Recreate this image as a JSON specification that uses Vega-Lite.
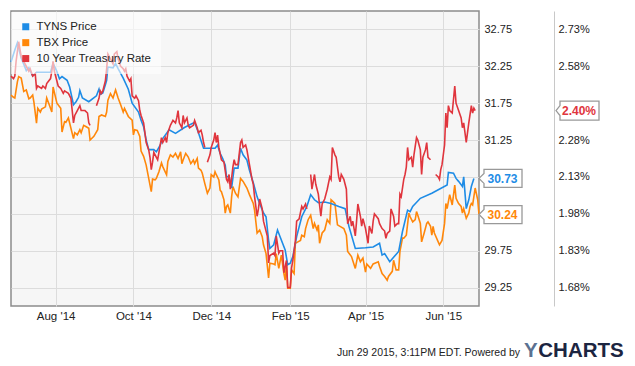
{
  "$schema": "https://vega.github.io/schema/vega-lite/v6.json",
  "width": 468,
  "height": 295,
  "autosize": {"type": "none"},
  "padding": {"left": 11, "top": 11, "right": 156, "bottom": 60},
  "background": "#ffffff",
  "config": {
    "font": "Liberation Sans",
    "view": {"fill": "#f6f6f6", "stroke": "#8c8c8c", "strokeWidth": 1.5},
    "axis": {"labelFont": "Liberation Sans", "labelColor": "#222222", "ticks": false, "domain": false, "gridColor": "#dcdcdc", "gridWidth": 1, "titleFont": "Liberation Sans"}
  },
  "datasets": {
    "tbx": [
      {"date":"2014-06-27","value":31.86},{"date":"2014-06-29","value":31.83},{"date":"2014-06-30","value":31.82},{"date":"2014-07-02","value":32.04},{"date":"2014-07-03","value":32.11},{"date":"2014-07-05","value":32.09},{"date":"2014-07-07","value":31.91},{"date":"2014-07-09","value":31.93},{"date":"2014-07-11","value":31.81},{"date":"2014-07-12","value":31.82},{"date":"2014-07-14","value":31.86},{"date":"2014-07-15","value":31.76},{"date":"2014-07-17","value":31.48},{"date":"2014-07-18","value":31.68},{"date":"2014-07-20","value":31.63},{"date":"2014-07-21","value":31.67},{"date":"2014-07-24","value":31.70},{"date":"2014-07-25","value":31.82},{"date":"2014-07-27","value":31.73},{"date":"2014-07-29","value":31.63},{"date":"2014-07-30","value":31.97},
      {"date":"2014-08-02","value":31.75},{"date":"2014-08-05","value":31.68},{"date":"2014-08-06","value":31.36},{"date":"2014-08-08","value":31.50},{"date":"2014-08-09","value":31.49},{"date":"2014-08-11","value":31.55},{"date":"2014-08-13","value":31.41},{"date":"2014-08-15","value":31.27},{"date":"2014-08-16","value":31.35},{"date":"2014-08-18","value":31.32},{"date":"2014-08-20","value":31.39},{"date":"2014-08-21","value":31.35},{"date":"2014-08-23","value":31.45},{"date":"2014-08-25","value":31.43},{"date":"2014-08-27","value":31.41},{"date":"2014-08-28","value":31.25},{"date":"2014-08-31","value":31.30},
      {"date":"2014-09-03","value":31.39},{"date":"2014-09-04","value":31.57},{"date":"2014-09-06","value":31.59},{"date":"2014-09-09","value":31.57},{"date":"2014-09-10","value":31.63},{"date":"2014-09-11","value":31.79},{"date":"2014-09-13","value":31.88},{"date":"2014-09-15","value":31.82},{"date":"2014-09-17","value":31.93},{"date":"2014-09-19","value":31.82},{"date":"2014-09-21","value":31.73},{"date":"2014-09-23","value":31.63},{"date":"2014-09-24","value":31.68},{"date":"2014-09-27","value":31.57},{"date":"2014-09-30","value":31.52},
      {"date":"2014-10-01","value":31.32},{"date":"2014-10-02","value":31.39},{"date":"2014-10-04","value":31.38},{"date":"2014-10-06","value":31.30},{"date":"2014-10-07","value":31.10},{"date":"2014-10-09","value":31.03},{"date":"2014-10-11","value":30.91},{"date":"2014-10-13","value":30.73},{"date":"2014-10-15","value":30.55},{"date":"2014-10-16","value":30.72},{"date":"2014-10-18","value":30.71},{"date":"2014-10-19","value":30.73},{"date":"2014-10-21","value":30.82},{"date":"2014-10-23","value":30.94},{"date":"2014-10-24","value":30.89},{"date":"2014-10-27","value":30.78},{"date":"2014-10-28","value":30.96},{"date":"2014-10-30","value":31.05},
      {"date":"2014-11-01","value":31.02},{"date":"2014-11-03","value":31.07},{"date":"2014-11-05","value":31.00},{"date":"2014-11-07","value":31.09},{"date":"2014-11-08","value":30.93},{"date":"2014-11-09","value":30.98},{"date":"2014-11-11","value":31.07},{"date":"2014-11-13","value":31.02},{"date":"2014-11-15","value":30.93},{"date":"2014-11-17","value":30.98},{"date":"2014-11-18","value":30.93},{"date":"2014-11-20","value":31.00},{"date":"2014-11-21","value":30.87},{"date":"2014-11-23","value":30.84},{"date":"2014-11-24","value":30.80},{"date":"2014-11-26","value":30.66},{"date":"2014-11-28","value":30.53},{"date":"2014-11-30","value":30.60},
      {"date":"2014-12-01","value":30.78},{"date":"2014-12-03","value":30.75},{"date":"2014-12-04","value":30.82},{"date":"2014-12-05","value":30.78},{"date":"2014-12-07","value":30.71},{"date":"2014-12-08","value":30.57},{"date":"2014-12-09","value":30.55},{"date":"2014-12-11","value":30.44},{"date":"2014-12-12","value":30.26},{"date":"2014-12-13","value":30.35},{"date":"2014-12-14","value":30.37},{"date":"2014-12-16","value":30.26},{"date":"2014-12-17","value":30.48},{"date":"2014-12-18","value":30.62},{"date":"2014-12-20","value":30.53},{"date":"2014-12-22","value":30.48},{"date":"2014-12-24","value":30.73},{"date":"2014-12-26","value":30.69},{"date":"2014-12-29","value":30.60},{"date":"2014-12-31","value":30.51},
      {"date":"2015-01-03","value":30.39},{"date":"2015-01-04","value":30.30},{"date":"2015-01-06","value":29.99},{"date":"2015-01-08","value":30.03},{"date":"2015-01-10","value":29.94},{"date":"2015-01-11","value":29.83},{"date":"2015-01-13","value":29.71},{"date":"2015-01-15","value":29.38},{"date":"2015-01-16","value":29.58},{"date":"2015-01-19","value":29.57},{"date":"2015-01-20","value":29.56},{"date":"2015-01-21","value":29.71},{"date":"2015-01-23","value":29.51},{"date":"2015-01-24","value":29.60},{"date":"2015-01-25","value":29.69},{"date":"2015-01-27","value":29.44},{"date":"2015-01-28","value":29.35},{"date":"2015-01-29","value":29.58},{"date":"2015-01-30","value":29.24},
      {"date":"2015-02-01","value":29.24},{"date":"2015-02-02","value":29.49},{"date":"2015-02-04","value":29.44},{"date":"2015-02-05","value":29.85},{"date":"2015-02-07","value":29.87},{"date":"2015-02-09","value":29.89},{"date":"2015-02-10","value":29.96},{"date":"2015-02-12","value":29.94},{"date":"2015-02-13","value":30.05},{"date":"2015-02-15","value":30.17},{"date":"2015-02-17","value":30.23},{"date":"2015-02-19","value":30.05},{"date":"2015-02-20","value":30.12},{"date":"2015-02-22","value":30.03},{"date":"2015-02-23","value":30.10},{"date":"2015-02-24","value":29.85},{"date":"2015-02-26","value":29.99},{"date":"2015-02-28","value":30.03},
      {"date":"2015-03-02","value":30.17},{"date":"2015-03-04","value":30.12},{"date":"2015-03-05","value":30.44},{"date":"2015-03-08","value":30.39},{"date":"2015-03-10","value":30.10},{"date":"2015-03-12","value":30.08},{"date":"2015-03-15","value":30.05},{"date":"2015-03-17","value":29.96},{"date":"2015-03-18","value":29.74},{"date":"2015-03-21","value":29.67},{"date":"2015-03-24","value":29.51},{"date":"2015-03-26","value":29.69},{"date":"2015-03-28","value":29.60},{"date":"2015-03-30","value":29.65},
      {"date":"2015-04-01","value":29.46},{"date":"2015-04-02","value":29.57},{"date":"2015-04-05","value":29.51},{"date":"2015-04-07","value":29.57},{"date":"2015-04-11","value":29.60},{"date":"2015-04-12","value":29.54},{"date":"2015-04-14","value":29.44},{"date":"2015-04-16","value":29.40},{"date":"2015-04-18","value":29.35},{"date":"2015-04-19","value":29.40},{"date":"2015-04-22","value":29.47},{"date":"2015-04-23","value":29.62},{"date":"2015-04-25","value":29.49},{"date":"2015-04-27","value":29.49},{"date":"2015-04-28","value":29.74},{"date":"2015-04-30","value":29.92},
      {"date":"2015-05-01","value":29.92},{"date":"2015-05-03","value":29.96},{"date":"2015-05-05","value":30.26},{"date":"2015-05-06","value":30.21},{"date":"2015-05-08","value":30.14},{"date":"2015-05-10","value":30.17},{"date":"2015-05-11","value":30.28},{"date":"2015-05-12","value":30.23},{"date":"2015-05-14","value":30.12},{"date":"2015-05-15","value":29.87},{"date":"2015-05-17","value":29.99},{"date":"2015-05-19","value":30.12},{"date":"2015-05-20","value":30.14},{"date":"2015-05-22","value":30.08},{"date":"2015-05-23","value":29.96},{"date":"2015-05-24","value":30.08},{"date":"2015-05-25","value":29.99},{"date":"2015-05-28","value":29.87},{"date":"2015-05-29","value":29.83},{"date":"2015-05-31","value":29.89},
      {"date":"2015-06-02","value":30.12},{"date":"2015-06-03","value":30.39},{"date":"2015-06-04","value":30.32},{"date":"2015-06-06","value":30.51},{"date":"2015-06-07","value":30.44},{"date":"2015-06-08","value":30.37},{"date":"2015-06-10","value":30.64},{"date":"2015-06-11","value":30.46},{"date":"2015-06-13","value":30.39},{"date":"2015-06-15","value":30.35},{"date":"2015-06-16","value":30.26},{"date":"2015-06-17","value":30.32},{"date":"2015-06-19","value":30.19},{"date":"2015-06-21","value":30.26},{"date":"2015-06-22","value":30.35},{"date":"2015-06-23","value":30.39},{"date":"2015-06-24","value":30.37},{"date":"2015-06-26","value":30.60},{"date":"2015-06-28","value":30.44},{"date":"2015-06-29","value":30.24}
    ],
    "tyns": [
      {"date":"2014-06-27","value":32.31},{"date":"2014-06-30","value":32.47},{"date":"2014-07-02","value":32.57},{"date":"2014-07-05","value":32.36},{"date":"2014-07-07","value":32.28},{"date":"2014-07-09","value":32.19},{"date":"2014-07-11","value":32.23},{"date":"2014-07-14","value":32.12},{"date":"2014-07-17","value":32.17},{"date":"2014-07-28","value":32.17},{"date":"2014-07-30","value":32.29},
      {"date":"2014-08-02","value":32.18},{"date":"2014-08-04","value":32.08},{"date":"2014-08-06","value":32.11},{"date":"2014-08-10","value":32.06},{"date":"2014-08-12","value":31.97},{"date":"2014-08-15","value":31.73},{"date":"2014-08-17","value":31.77},{"date":"2014-08-19","value":31.83},{"date":"2014-08-20","value":31.92},{"date":"2014-08-22","value":31.82},{"date":"2014-08-27","value":31.77},
      {"date":"2014-09-02","value":31.85},{"date":"2014-09-04","value":31.94},{"date":"2014-09-05","value":31.87},{"date":"2014-09-07","value":31.89},{"date":"2014-09-09","value":32.00},{"date":"2014-09-10","value":32.06},{"date":"2014-09-11","value":32.24},{"date":"2014-09-15","value":32.23},{"date":"2014-09-17","value":32.29},{"date":"2014-09-19","value":32.22},{"date":"2014-09-23","value":32.09},{"date":"2014-09-27","value":31.94},{"date":"2014-09-30","value":31.75},
      {"date":"2014-10-05","value":31.63},{"date":"2014-10-07","value":31.52},{"date":"2014-10-09","value":31.43},{"date":"2014-10-11","value":31.25},{"date":"2014-10-13","value":31.12},{"date":"2014-10-17","value":31.12},{"date":"2014-10-19","value":31.09},{"date":"2014-10-22","value":31.18},{"date":"2014-10-24","value":31.27},{"date":"2014-10-29","value":31.39},
      {"date":"2014-11-03","value":31.34},{"date":"2014-11-10","value":31.42},{"date":"2014-11-18","value":31.49},{"date":"2014-11-21","value":31.35},{"date":"2014-11-25","value":31.14},
      {"date":"2014-12-04","value":31.14},{"date":"2014-12-06","value":31.18},{"date":"2014-12-08","value":31.07},{"date":"2014-12-10","value":31.00},{"date":"2014-12-12","value":30.91},{"date":"2014-12-13","value":30.75},{"date":"2014-12-15","value":30.76},{"date":"2014-12-17","value":30.60},{"date":"2014-12-19","value":30.87},{"date":"2014-12-22","value":30.87},{"date":"2014-12-24","value":31.14},{"date":"2014-12-26","value":31.05},{"date":"2014-12-29","value":30.98},{"date":"2014-12-31","value":30.84},
      {"date":"2015-01-03","value":30.67},{"date":"2015-01-06","value":30.48},{"date":"2015-01-08","value":30.39},{"date":"2015-01-11","value":30.26},{"date":"2015-01-13","value":30.21},{"date":"2015-01-15","value":29.89},{"date":"2015-01-16","value":29.78},{"date":"2015-01-19","value":29.83},{"date":"2015-01-22","value":30.03},{"date":"2015-01-24","value":29.94},{"date":"2015-01-28","value":29.76},{"date":"2015-01-30","value":29.56},
      {"date":"2015-02-01","value":29.58},{"date":"2015-02-03","value":29.67},{"date":"2015-02-06","value":29.94},{"date":"2015-02-10","value":30.21},{"date":"2015-02-14","value":30.35},{"date":"2015-02-17","value":30.51},{"date":"2015-02-20","value":30.44},{"date":"2015-02-23","value":30.40},{"date":"2015-02-28","value":30.41},
      {"date":"2015-03-05","value":30.39},{"date":"2015-03-11","value":30.35},{"date":"2015-03-16","value":30.32},{"date":"2015-03-19","value":30.08},{"date":"2015-03-24","value":29.78},
      {"date":"2015-04-01","value":29.79},{"date":"2015-04-07","value":29.80},{"date":"2015-04-12","value":29.85},{"date":"2015-04-14","value":29.69},{"date":"2015-04-16","value":29.71},{"date":"2015-04-20","value":29.60},{"date":"2015-04-27","value":29.74},{"date":"2015-04-30","value":30.01},
      {"date":"2015-05-04","value":30.30},{"date":"2015-05-06","value":30.28},{"date":"2015-05-08","value":30.35},{"date":"2015-05-14","value":30.46},{"date":"2015-05-23","value":30.53},
      {"date":"2015-06-04","value":30.64},{"date":"2015-06-05","value":30.81},{"date":"2015-06-09","value":30.80},{"date":"2015-06-11","value":30.73},{"date":"2015-06-13","value":30.69},{"date":"2015-06-16","value":30.62},{"date":"2015-06-17","value":30.75},{"date":"2015-06-19","value":30.32},{"date":"2015-06-21","value":30.44},{"date":"2015-06-23","value":30.62},{"date":"2015-06-25","value":30.73}
    ],
    "rate": [
      {"date":"2014-06-27","value":2.54},{"date":"2014-06-29","value":2.53},{"date":"2014-06-30","value":2.54},{"date":"2014-07-01","value":2.60},{"date":"2014-07-03","value":2.68},{"date":"2014-07-05","value":2.62},{"date":"2014-07-08","value":2.59},{"date":"2014-07-11","value":2.56},{"date":"2014-07-12","value":2.57},{"date":"2014-07-14","value":2.54},{"date":"2014-07-16","value":2.55},{"date":"2014-07-17","value":2.49},{"date":"2014-07-18","value":2.50},{"date":"2014-07-21","value":2.49},{"date":"2014-07-22","value":2.50},{"date":"2014-07-24","value":2.49},{"date":"2014-07-25","value":2.51},{"date":"2014-07-28","value":2.53},{"date":"2014-07-29","value":2.56},{"date":"2014-07-30","value":2.60},{"date":"2014-07-31","value":2.56},
      {"date":"2014-08-02","value":2.52},{"date":"2014-08-03","value":2.50},{"date":"2014-08-05","value":2.49},{"date":"2014-08-07","value":2.47},{"date":"2014-08-08","value":2.48},{"date":"2014-08-11","value":2.47},{"date":"2014-08-13","value":2.45},{"date":"2014-08-14","value":2.40},{"date":"2014-08-15","value":2.35},{"date":"2014-08-16","value":2.38},{"date":"2014-08-18","value":2.40},{"date":"2014-08-20","value":2.42},{"date":"2014-08-21","value":2.40},{"date":"2014-08-24","value":2.40},{"date":"2014-08-26","value":2.39},{"date":"2014-08-27","value":2.35},{"date":"2014-08-28","value":2.34},{"date":"2014-08-31","value":null},
      {"date":"2014-09-02","value":2.42},{"date":"2014-09-04","value":2.45},{"date":"2014-09-05","value":2.48},{"date":"2014-09-06","value":2.47},{"date":"2014-09-07","value":2.48},{"date":"2014-09-09","value":2.52},{"date":"2014-09-10","value":2.57},{"date":"2014-09-11","value":2.63},{"date":"2014-09-13","value":2.61},{"date":"2014-09-15","value":2.59},{"date":"2014-09-16","value":2.63},{"date":"2014-09-18","value":2.64},{"date":"2014-09-19","value":2.61},{"date":"2014-09-21","value":2.58},{"date":"2014-09-23","value":2.57},{"date":"2014-09-24","value":2.56},{"date":"2014-09-25","value":2.57},{"date":"2014-09-26","value":2.54},{"date":"2014-09-28","value":2.52},{"date":"2014-09-29","value":2.53},{"date":"2014-09-30","value":2.46},
      {"date":"2014-10-02","value":2.45},{"date":"2014-10-03","value":2.46},{"date":"2014-10-05","value":2.44},{"date":"2014-10-06","value":2.40},{"date":"2014-10-07","value":2.38},{"date":"2014-10-09","value":2.35},{"date":"2014-10-10","value":2.31},{"date":"2014-10-11","value":2.27},{"date":"2014-10-13","value":2.24},{"date":"2014-10-14","value":2.21},{"date":"2014-10-15","value":2.16},{"date":"2014-10-16","value":2.19},{"date":"2014-10-17","value":2.23},{"date":"2014-10-19","value":2.21},{"date":"2014-10-20","value":2.20},{"date":"2014-10-21","value":2.23},{"date":"2014-10-23","value":2.29},{"date":"2014-10-24","value":2.27},{"date":"2014-10-26","value":2.29},{"date":"2014-10-27","value":2.27},{"date":"2014-10-28","value":2.31},{"date":"2014-10-30","value":2.34},{"date":"2014-10-31","value":2.35},
      {"date":"2014-11-01","value":2.36},{"date":"2014-11-03","value":2.35},{"date":"2014-11-04","value":2.37},{"date":"2014-11-05","value":2.40},{"date":"2014-11-06","value":2.35},{"date":"2014-11-08","value":2.33},{"date":"2014-11-09","value":2.38},{"date":"2014-11-10","value":2.35},{"date":"2014-11-12","value":2.37},{"date":"2014-11-13","value":2.34},{"date":"2014-11-14","value":2.33},{"date":"2014-11-17","value":2.34},{"date":"2014-11-18","value":2.36},{"date":"2014-11-20","value":2.33},{"date":"2014-11-21","value":2.31},{"date":"2014-11-23","value":2.32},{"date":"2014-11-24","value":2.30},{"date":"2014-11-25","value":2.27},{"date":"2014-11-26","value":2.25},{"date":"2014-11-27","value":null},{"date":"2014-11-28","value":2.19},{"date":"2014-11-30","value":2.22},
      {"date":"2014-12-01","value":2.25},{"date":"2014-12-03","value":2.28},{"date":"2014-12-04","value":2.31},{"date":"2014-12-05","value":2.27},{"date":"2014-12-06","value":2.30},{"date":"2014-12-07","value":2.25},{"date":"2014-12-09","value":2.20},{"date":"2014-12-11","value":2.19},{"date":"2014-12-13","value":2.12},{"date":"2014-12-14","value":2.11},{"date":"2014-12-15","value":2.14},{"date":"2014-12-16","value":2.08},{"date":"2014-12-18","value":2.17},{"date":"2014-12-19","value":2.20},{"date":"2014-12-20","value":2.18},{"date":"2014-12-22","value":2.18},{"date":"2014-12-24","value":2.27},{"date":"2014-12-25","value":2.28},{"date":"2014-12-26","value":2.25},{"date":"2014-12-28","value":2.26},{"date":"2014-12-29","value":2.24},{"date":"2014-12-31","value":2.18},
      {"date":"2015-01-02","value":2.12},{"date":"2015-01-03","value":2.10},{"date":"2015-01-04","value":2.05},{"date":"2015-01-06","value":1.97},{"date":"2015-01-07","value":2.00},{"date":"2015-01-08","value":2.04},{"date":"2015-01-10","value":2.00},{"date":"2015-01-11","value":1.95},{"date":"2015-01-12","value":1.93},{"date":"2015-01-14","value":1.89},{"date":"2015-01-15","value":1.78},{"date":"2015-01-16","value":1.81},{"date":"2015-01-19","value":1.82},{"date":"2015-01-20","value":1.81},{"date":"2015-01-21","value":1.89},{"date":"2015-01-23","value":1.82},{"date":"2015-01-24","value":1.83},{"date":"2015-01-26","value":1.83},{"date":"2015-01-27","value":1.74},{"date":"2015-01-29","value":1.79},{"date":"2015-01-30","value":1.68},
      {"date":"2015-02-01","value":1.68},{"date":"2015-02-02","value":1.76},{"date":"2015-02-03","value":1.79},{"date":"2015-02-05","value":1.87},{"date":"2015-02-06","value":1.95},{"date":"2015-02-08","value":1.96},{"date":"2015-02-10","value":2.01},{"date":"2015-02-11","value":2.00},{"date":"2015-02-13","value":2.02},{"date":"2015-02-14","value":2.00},{"date":"2015-02-16","value":null},{"date":"2015-02-17","value":2.14},{"date":"2015-02-18","value":2.08},{"date":"2015-02-20","value":2.14},{"date":"2015-02-21","value":2.10},{"date":"2015-02-23","value":2.06},{"date":"2015-02-25","value":1.97},{"date":"2015-02-26","value":2.02},{"date":"2015-02-28","value":2.04},
      {"date":"2015-03-02","value":2.08},{"date":"2015-03-04","value":2.13},{"date":"2015-03-05","value":2.12},{"date":"2015-03-06","value":2.25},{"date":"2015-03-08","value":2.22},{"date":"2015-03-09","value":2.21},{"date":"2015-03-11","value":2.13},{"date":"2015-03-12","value":2.11},{"date":"2015-03-13","value":2.14},{"date":"2015-03-15","value":2.12},{"date":"2015-03-16","value":2.10},{"date":"2015-03-17","value":2.08},{"date":"2015-03-18","value":1.94},{"date":"2015-03-20","value":1.97},{"date":"2015-03-21","value":1.93},{"date":"2015-03-22","value":1.95},{"date":"2015-03-24","value":1.89},{"date":"2015-03-25","value":1.95},{"date":"2015-03-26","value":2.02},{"date":"2015-03-28","value":1.97},{"date":"2015-03-29","value":1.93},{"date":"2015-03-30","value":1.96},
      {"date":"2015-04-01","value":1.92},{"date":"2015-04-02","value":1.89},{"date":"2015-04-03","value":1.86},{"date":"2015-04-04","value":1.93},{"date":"2015-04-06","value":1.90},{"date":"2015-04-07","value":1.95},{"date":"2015-04-08","value":1.98},{"date":"2015-04-11","value":1.96},{"date":"2015-04-12","value":1.94},{"date":"2015-04-14","value":1.92},{"date":"2015-04-16","value":1.91},{"date":"2015-04-17","value":1.88},{"date":"2015-04-18","value":1.90},{"date":"2015-04-20","value":1.91},{"date":"2015-04-21","value":2.00},{"date":"2015-04-23","value":1.97},{"date":"2015-04-24","value":1.93},{"date":"2015-04-26","value":1.94},{"date":"2015-04-27","value":1.94},{"date":"2015-04-28","value":2.06},{"date":"2015-04-29","value":2.05},
      {"date":"2015-05-01","value":2.12},{"date":"2015-05-02","value":2.14},{"date":"2015-05-03","value":2.17},{"date":"2015-05-04","value":2.25},{"date":"2015-05-05","value":2.20},{"date":"2015-05-07","value":2.21},{"date":"2015-05-08","value":2.17},{"date":"2015-05-09","value":2.22},{"date":"2015-05-11","value":2.29},{"date":"2015-05-12","value":2.28},{"date":"2015-05-14","value":2.24},{"date":"2015-05-15","value":2.14},{"date":"2015-05-16","value":2.21},{"date":"2015-05-18","value":2.24},{"date":"2015-05-19","value":2.27},{"date":"2015-05-20","value":2.21},{"date":"2015-05-22","value":2.20},{"date":"2015-05-25","value":null},{"date":"2015-05-26","value":2.14},{"date":"2015-05-28","value":2.13},{"date":"2015-05-29","value":2.12},{"date":"2015-05-30","value":2.16},{"date":"2015-05-31","value":2.18},
      {"date":"2015-06-02","value":2.26},{"date":"2015-06-03","value":2.39},{"date":"2015-06-04","value":2.33},{"date":"2015-06-05","value":2.42},{"date":"2015-06-06","value":2.40},{"date":"2015-06-08","value":2.39},{"date":"2015-06-10","value":2.50},{"date":"2015-06-11","value":2.43},{"date":"2015-06-13","value":2.40},{"date":"2015-06-15","value":2.37},{"date":"2015-06-16","value":2.33},{"date":"2015-06-17","value":2.35},{"date":"2015-06-19","value":2.27},{"date":"2015-06-20","value":2.31},{"date":"2015-06-21","value":2.35},{"date":"2015-06-23","value":2.42},{"date":"2015-06-24","value":2.39},{"date":"2015-06-25","value":2.41},{"date":"2015-06-26","value":2.40}
    ],
    "priceTags": [
      {"date":"2015-06-29","value":30.73,"label":"30.73","series":"TYNS Price"},
      {"date":"2015-06-29","value":30.24,"label":"30.24","series":"TBX Price"}
    ],
    "rateTags": [
      {"date":"2015-06-29","value":2.40,"label":"2.40%","series":"10 Year Treasury Rate"}
    ]
  },
  "encoding": {
    "x": {
      "field": "date",
      "type": "temporal",
      "scale": {"type": "utc", "domain": [{"year":2014,"month":6,"date":27,"utc":true},{"year":2015,"month":6,"date":29,"utc":true}]},
      "axis": {
        "values": [{"year":2014,"month":8,"date":1,"utc":true},{"year":2014,"month":10,"date":1,"utc":true},{"year":2014,"month":12,"date":1,"utc":true},{"year":2015,"month":2,"date":1,"utc":true},{"year":2015,"month":4,"date":1,"utc":true},{"year":2015,"month":6,"date":1,"utc":true}],
        "format": "%b '%y",
        "labelFontSize": 11.5,
        "labelPadding": 4,
        "grid": true,
        "title": "Jun 29 2015, 3:11PM EDT.  Powered by",
        "titleFontSize": 10.5,
        "titleFontWeight": "normal",
        "titleColor": "#222222",
        "titleAlign": "right",
        "titleAnchor": "start",
        "titleX": 508.5,
        "titleY": 49.5,
        "titleBaseline": "alphabetic"
      }
    }
  },
  "layer": [
    {
      "encoding": {
        "y": {
          "field": "value",
          "type": "quantitative",
          "scale": {"domain": [29, 33], "nice": false, "zero": false},
          "axis": {
            "orient": "right",
            "values": [29.25, 29.75, 30.25, 30.75, 31.25, 31.75, 32.25, 32.75],
            "labelExpr": "(datum.value > 30.2 && datum.value < 30.8) ? '' : format(datum.value, '.2f')",
            "labelFontSize": 11,
            "labelPadding": 5,
            "grid": true,
            "title": "Y",
            "titleAngle": 0,
            "titleFontSize": 20.5,
            "titleFontWeight": "bold",
            "titleColor": "#5b7191",
            "titleAlign": "right",
            "titleAnchor": "start",
            "titleX": 58.3,
            "titleY": 345.5,
            "titleBaseline": "alphabetic"
          }
        }
      },
      "layer": [
        {
          "data": {"name": "tbx"},
          "mark": {"type": "line", "strokeWidth": 1.6},
          "encoding": {
            "color": {
              "datum": "TBX Price",
              "type": "nominal",
              "scale": {"domain": ["TYNS Price", "TBX Price", "10 Year Treasury Rate"], "range": ["#1e8ce6", "#ff870a", "#e0353d"]},
              "legend": {
                "orient": "none",
                "legendX": 0,
                "legendY": 1,
                "title": null,
                "symbolType": "square",
                "symbolSize": 49,
                "symbolStrokeWidth": 0,
                "labelFont": "Liberation Sans",
                "labelFontSize": 11.5,
                "labelColor": "#222222",
                "labelOffset": 5,
                "rowPadding": 2.9,
                "padding": 9,
                "fillColor": "rgba(255,255,255,0.6)",
                "zindex": 1,
                "encode": {"symbols": {"update": {"fill": {"scale": "color", "field": "value"}, "strokeWidth": {"value": 0}}}}
              }
            }
          }
        },
        {
          "data": {"name": "tyns"},
          "mark": {"type": "line", "strokeWidth": 1.6},
          "encoding": {
            "color": {"datum": "TYNS Price", "type": "nominal", "scale": {"domain": ["TYNS Price", "TBX Price", "10 Year Treasury Rate"], "range": ["#1e8ce6", "#ff870a", "#e0353d"]}}
          }
        },
        {
          "data": {"name": "priceTags"},
          "mark": {"type": "point", "shape": "M0,0L5,-5L5,-9L43,-9L43,9L5,9L5,5Z", "size": 4, "filled": true, "fill": "#ffffff", "stroke": "#999999", "strokeWidth": 1.3, "opacity": 1}
        },
        {
          "data": {"name": "priceTags"},
          "transform": [{"filter": "datum.series === 'TYNS Price'"}],
          "mark": {"type": "text", "align": "left", "baseline": "middle", "dx": 8.5, "dy": 0.5, "font": "Liberation Sans", "fontSize": 12, "fontWeight": "bold", "fill": "#1e8ce6"},
          "encoding": {"text": {"field": "label", "type": "nominal"}}
        },
        {
          "data": {"name": "priceTags"},
          "transform": [{"filter": "datum.series === 'TBX Price'"}],
          "mark": {"type": "text", "align": "left", "baseline": "middle", "dx": 8.5, "dy": 0.5, "font": "Liberation Sans", "fontSize": 12, "fontWeight": "bold", "fill": "#ff870a"},
          "encoding": {"text": {"field": "label", "type": "nominal"}}
        }
      ]
    },
    {
      "encoding": {
        "y": {
          "field": "value",
          "type": "quantitative",
          "scale": {"domain": [1.605, 2.805], "nice": false, "zero": false},
          "axis": {
            "orient": "right",
            "offset": 75,
            "values": [1.68, 1.83, 1.98, 2.13, 2.28, 2.43, 2.58, 2.73],
            "labelExpr": "(datum.value > 2.4 && datum.value < 2.5) ? '' : format(datum.value, '.2f') + '%'",
            "labelFontSize": 11,
            "labelPadding": 4,
            "grid": false,
            "domain": true,
            "domainColor": "#c8c8c8",
            "domainWidth": 1,
            "title": "CHARTS",
            "titleAngle": 0,
            "titleFontSize": 20.5,
            "titleFontWeight": "bold",
            "titleColor": "#1c2541",
            "titleAlign": "left",
            "titleAnchor": "start",
            "titleX": -16.2,
            "titleY": 345.5,
            "titleBaseline": "alphabetic"
          }
        }
      },
      "layer": [
        {
          "data": {"name": "rate"},
          "mark": {"type": "line", "strokeWidth": 1.6},
          "encoding": {
            "color": {"datum": "10 Year Treasury Rate", "type": "nominal", "scale": {"domain": ["TYNS Price", "TBX Price", "10 Year Treasury Rate"], "range": ["#1e8ce6", "#ff870a", "#e0353d"]}}
          }
        },
        {
          "data": {"name": "rateTags"},
          "mark": {"type": "point", "shape": "M77,0L81,-5L81,-9.5L120,-9.5L120,9.5L81,9.5L81,5Z", "size": 4, "filled": true, "fill": "#ffffff", "stroke": "#999999", "strokeWidth": 1.3, "opacity": 1}
        },
        {
          "data": {"name": "rateTags"},
          "mark": {"type": "text", "align": "left", "baseline": "middle", "dx": 83, "dy": 0.5, "font": "Liberation Sans", "fontSize": 12, "fontWeight": "bold", "fill": "#e0353d"},
          "encoding": {"text": {"field": "label", "type": "nominal"}}
        }
      ]
    }
  ],
  "resolve": {"scale": {"y": "independent"}}
}
